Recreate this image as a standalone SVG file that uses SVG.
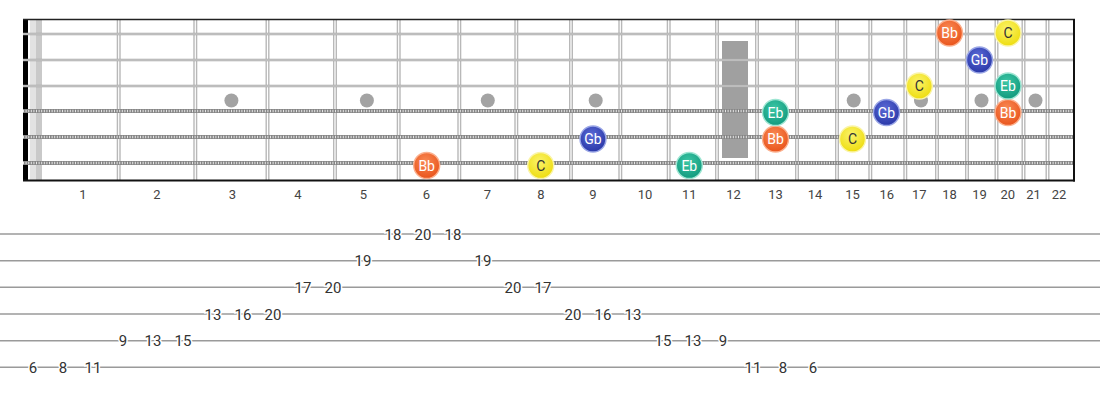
<svg xmlns="http://www.w3.org/2000/svg" width="1100" height="400" viewBox="0 0 1100 400">
<style>
.fret{stroke:#b8b8b8;stroke-width:4}
.fretc{stroke:#ffffff;stroke-width:1.2}
.dot{fill:#a3a3a3}
.ps{stroke:#a8a8a8;stroke-width:2.6}
.psc{stroke:#dcdcdc;stroke-width:0.8}
.ws{stroke:#858585;stroke-width:4}
.wsc{stroke:#e6e6e6;stroke-width:2.4;stroke-dasharray:1 1.6}
.fnum{font-family:Roboto,"Liberation Sans",sans-serif;font-size:13px;fill:#444;text-anchor:middle}
.nl{font-family:Roboto,"Liberation Sans",sans-serif;font-size:14px;text-anchor:middle;fill:#fff}
.nl.dk{fill:#333}
.tl{stroke:#9a9a9a;stroke-width:1.5}
.tn{font-family:Roboto,"Liberation Sans",sans-serif;font-size:15px;fill:#333;text-anchor:middle;stroke:#fff;stroke-width:3;paint-order:stroke}
</style>
<defs>
<radialGradient id="gBb" cx="0.45" cy="0.35" r="0.65"><stop offset="0" stop-color="#f98a55"/><stop offset="1" stop-color="#e9541c"/></radialGradient>
<radialGradient id="gC" cx="0.45" cy="0.35" r="0.65"><stop offset="0" stop-color="#fbf36a"/><stop offset="1" stop-color="#eedd10"/></radialGradient>
<radialGradient id="gGb" cx="0.45" cy="0.35" r="0.65"><stop offset="0" stop-color="#5a6ad6"/><stop offset="1" stop-color="#2a38a8"/></radialGradient>
<radialGradient id="gEb" cx="0.45" cy="0.35" r="0.65"><stop offset="0" stop-color="#3cc7a5"/><stop offset="1" stop-color="#139a7e"/></radialGradient>
</defs>
<rect width="1100" height="400" fill="#fff"/>
<g id="fretboard">
<rect x="30" y="20" width="6" height="160" fill="#e2e2e2"/>
<rect x="36" y="20" width="6" height="160" fill="#c9c9c9"/>
<g id="frets">
<line class="fret" x1="118.7" y1="20" x2="118.7" y2="180"/><line class="fretc" x1="118.7" y1="20" x2="118.7" y2="180"/>
<line class="fret" x1="195.3" y1="20" x2="195.3" y2="180"/><line class="fretc" x1="195.3" y1="20" x2="195.3" y2="180"/>
<line class="fret" x1="267.5" y1="20" x2="267.5" y2="180"/><line class="fretc" x1="267.5" y1="20" x2="267.5" y2="180"/>
<line class="fret" x1="335" y1="20" x2="335" y2="180"/><line class="fretc" x1="335" y1="20" x2="335" y2="180"/>
<line class="fret" x1="398.7" y1="20" x2="398.7" y2="180"/><line class="fretc" x1="398.7" y1="20" x2="398.7" y2="180"/>
<line class="fret" x1="459.3" y1="20" x2="459.3" y2="180"/><line class="fretc" x1="459.3" y1="20" x2="459.3" y2="180"/>
<line class="fret" x1="516.3" y1="20" x2="516.3" y2="180"/><line class="fretc" x1="516.3" y1="20" x2="516.3" y2="180"/>
<line class="fret" x1="571" y1="20" x2="571" y2="180"/><line class="fretc" x1="571" y1="20" x2="571" y2="180"/>
<line class="fret" x1="620.3" y1="20" x2="620.3" y2="180"/><line class="fretc" x1="620.3" y1="20" x2="620.3" y2="180"/>
<line class="fret" x1="668.7" y1="20" x2="668.7" y2="180"/><line class="fretc" x1="668.7" y1="20" x2="668.7" y2="180"/>
<line class="fret" x1="717" y1="20" x2="717" y2="180"/><line class="fretc" x1="717" y1="20" x2="717" y2="180"/>
<line class="fret" x1="757" y1="20" x2="757" y2="180"/><line class="fretc" x1="757" y1="20" x2="757" y2="180"/>
<line class="fret" x1="797" y1="20" x2="797" y2="180"/><line class="fretc" x1="797" y1="20" x2="797" y2="180"/>
<line class="fret" x1="837" y1="20" x2="837" y2="180"/><line class="fretc" x1="837" y1="20" x2="837" y2="180"/>
<line class="fret" x1="870.3" y1="20" x2="870.3" y2="180"/><line class="fretc" x1="870.3" y1="20" x2="870.3" y2="180"/>
<line class="fret" x1="905.3" y1="20" x2="905.3" y2="180"/><line class="fretc" x1="905.3" y1="20" x2="905.3" y2="180"/>
<line class="fret" x1="937" y1="20" x2="937" y2="180"/><line class="fretc" x1="937" y1="20" x2="937" y2="180"/>
<line class="fret" x1="967" y1="20" x2="967" y2="180"/><line class="fretc" x1="967" y1="20" x2="967" y2="180"/>
<line class="fret" x1="996.5" y1="20" x2="996.5" y2="180"/><line class="fretc" x1="996.5" y1="20" x2="996.5" y2="180"/>
<line class="fret" x1="1023.5" y1="20" x2="1023.5" y2="180"/><line class="fretc" x1="1023.5" y1="20" x2="1023.5" y2="180"/>
<line class="fret" x1="1047.5" y1="20" x2="1047.5" y2="180"/><line class="fretc" x1="1047.5" y1="20" x2="1047.5" y2="180"/>
</g>
<g id="inlays">
<circle class="dot" cx="231.4" cy="100.5" r="7"/>
<circle class="dot" cx="366.9" cy="100.5" r="7"/>
<circle class="dot" cx="487.8" cy="100.5" r="7"/>
<circle class="dot" cx="595.7" cy="100.5" r="7"/>
<circle class="dot" cx="853.7" cy="100.5" r="7"/>
<circle class="dot" cx="921" cy="100.5" r="7"/>
<circle class="dot" cx="981.5" cy="100.5" r="7"/>
<circle class="dot" cx="1035.5" cy="100.5" r="7"/>
<rect x="722" y="41" width="26" height="117" fill="#a0a0a0"/>
</g>
<rect x="23" y="19" width="5" height="162" fill="#000"/>
<g id="strings">
<line class="ps" x1="23" y1="34" x2="1073" y2="34"/><line class="psc" x1="23" y1="34" x2="1073" y2="34"/>
<line class="ps" x1="23" y1="60" x2="1073" y2="60"/><line class="psc" x1="23" y1="60" x2="1073" y2="60"/>
<line class="ps" x1="23" y1="86" x2="1073" y2="86"/><line class="psc" x1="23" y1="86" x2="1073" y2="86"/>
<line class="ws" x1="23" y1="111" x2="1073" y2="111"/><line class="wsc" x1="23" y1="111" x2="1073" y2="111"/>
<line class="ws" x1="23" y1="137" x2="1073" y2="137"/><line class="wsc" x1="23" y1="137" x2="1073" y2="137"/>
<line class="ws" x1="23" y1="163" x2="1073" y2="163"/><line class="wsc" x1="23" y1="163" x2="1073" y2="163"/>
</g>
<line x1="23" y1="19.5" x2="1075" y2="19.5" stroke="#222" stroke-width="1.6"/>
<line x1="23" y1="180.5" x2="1075" y2="180.5" stroke="#111" stroke-width="2"/>
<line x1="1074" y1="19" x2="1074" y2="181.5" stroke="#111" stroke-width="2"/>
</g>
<g id="fret-numbers">
<text class="fnum" x="83" y="199">1</text>
<text class="fnum" x="157" y="199">2</text>
<text class="fnum" x="232.5" y="199">3</text>
<text class="fnum" x="298" y="199">4</text>
<text class="fnum" x="363.3" y="199">5</text>
<text class="fnum" x="426.5" y="199">6</text>
<text class="fnum" x="487.5" y="199">7</text>
<text class="fnum" x="541" y="199">8</text>
<text class="fnum" x="593" y="199">9</text>
<text class="fnum" x="645" y="199">10</text>
<text class="fnum" x="689.3" y="199">11</text>
<text class="fnum" x="733.5" y="199">12</text>
<text class="fnum" x="775.5" y="199">13</text>
<text class="fnum" x="815" y="199">14</text>
<text class="fnum" x="852.5" y="199">15</text>
<text class="fnum" x="886.7" y="199">16</text>
<text class="fnum" x="919.3" y="199">17</text>
<text class="fnum" x="949.5" y="199">18</text>
<text class="fnum" x="979.5" y="199">19</text>
<text class="fnum" x="1007.7" y="199">20</text>
<text class="fnum" x="1033.5" y="199">21</text>
<text class="fnum" x="1059" y="199">22</text>
</g>
<g id="notes">
<g id="n-s6-f6"><circle cx="426.7" cy="165.5" r="13" fill="url(#gBb)" stroke="#fbb08e" stroke-width="1.4"/><text class="nl" x="426.7" y="170.5">Bb</text></g>
<g id="n-s6-f8"><circle cx="540.7" cy="165.5" r="13" fill="url(#gC)" stroke="#faf4a8" stroke-width="1.4"/><text class="nl dk" x="540.7" y="170.5">C</text></g>
<g id="n-s6-f11"><circle cx="689.3" cy="165.5" r="13" fill="url(#gEb)" stroke="#9fe6d3" stroke-width="1.4"/><text class="nl" x="689.3" y="170.5">Eb</text></g>
<g id="n-s5-f9"><circle cx="593" cy="139" r="13" fill="url(#gGb)" stroke="#9aa6e6" stroke-width="1.4"/><text class="nl" x="593" y="144">Gb</text></g>
<g id="n-s5-f13"><circle cx="775.5" cy="139" r="13" fill="url(#gBb)" stroke="#fbb08e" stroke-width="1.4"/><text class="nl" x="775.5" y="144">Bb</text></g>
<g id="n-s5-f15"><circle cx="852.5" cy="139" r="13" fill="url(#gC)" stroke="#faf4a8" stroke-width="1.4"/><text class="nl dk" x="852.5" y="144">C</text></g>
<g id="n-s4-f13"><circle cx="775.5" cy="112.5" r="13" fill="url(#gEb)" stroke="#9fe6d3" stroke-width="1.4"/><text class="nl" x="775.5" y="117.5">Eb</text></g>
<g id="n-s4-f16"><circle cx="886.5" cy="112.5" r="13" fill="url(#gGb)" stroke="#9aa6e6" stroke-width="1.4"/><text class="nl" x="886.5" y="117.5">Gb</text></g>
<g id="n-s4-f20"><circle cx="1008" cy="112.5" r="13" fill="url(#gBb)" stroke="#fbb08e" stroke-width="1.4"/><text class="nl" x="1008" y="117.5">Bb</text></g>
<g id="n-s3-f17"><circle cx="919.3" cy="86" r="13" fill="url(#gC)" stroke="#faf4a8" stroke-width="1.4"/><text class="nl dk" x="919.3" y="91">C</text></g>
<g id="n-s3-f20"><circle cx="1008" cy="86" r="13" fill="url(#gEb)" stroke="#9fe6d3" stroke-width="1.4"/><text class="nl" x="1008" y="91">Eb</text></g>
<g id="n-s2-f19"><circle cx="979.5" cy="60" r="13" fill="url(#gGb)" stroke="#9aa6e6" stroke-width="1.4"/><text class="nl" x="979.5" y="65">Gb</text></g>
<g id="n-s1-f18"><circle cx="949.5" cy="33" r="13" fill="url(#gBb)" stroke="#fbb08e" stroke-width="1.4"/><text class="nl" x="949.5" y="38">Bb</text></g>
<g id="n-s1-f20"><circle cx="1008" cy="33" r="13" fill="url(#gC)" stroke="#faf4a8" stroke-width="1.4"/><text class="nl dk" x="1008" y="38">C</text></g>
</g>
<g id="tab-lines">
<line class="tl" x1="0" y1="234" x2="1100" y2="234"/>
<line class="tl" x1="0" y1="260.7" x2="1100" y2="260.7"/>
<line class="tl" x1="0" y1="287.3" x2="1100" y2="287.3"/>
<line class="tl" x1="0" y1="314" x2="1100" y2="314"/>
<line class="tl" x1="0" y1="340.7" x2="1100" y2="340.7"/>
<line class="tl" x1="0" y1="367.3" x2="1100" y2="367.3"/>
</g>
<g id="tab-numbers">
<text class="tn" x="33" y="372.8">6</text>
<text class="tn" x="63" y="372.8">8</text>
<text class="tn" x="93" y="372.8">11</text>
<text class="tn" x="123" y="346.2">9</text>
<text class="tn" x="153" y="346.2">13</text>
<text class="tn" x="183" y="346.2">15</text>
<text class="tn" x="213" y="319.5">13</text>
<text class="tn" x="243" y="319.5">16</text>
<text class="tn" x="273" y="319.5">20</text>
<text class="tn" x="303" y="292.8">17</text>
<text class="tn" x="333" y="292.8">20</text>
<text class="tn" x="363" y="266.2">19</text>
<text class="tn" x="393" y="239.5">18</text>
<text class="tn" x="423" y="239.5">20</text>
<text class="tn" x="453" y="239.5">18</text>
<text class="tn" x="483" y="266.2">19</text>
<text class="tn" x="513" y="292.8">20</text>
<text class="tn" x="543" y="292.8">17</text>
<text class="tn" x="573" y="319.5">20</text>
<text class="tn" x="603" y="319.5">16</text>
<text class="tn" x="633" y="319.5">13</text>
<text class="tn" x="663" y="346.2">15</text>
<text class="tn" x="693" y="346.2">13</text>
<text class="tn" x="723" y="346.2">9</text>
<text class="tn" x="753" y="372.8">11</text>
<text class="tn" x="783" y="372.8">8</text>
<text class="tn" x="813" y="372.8">6</text>
</g>
</svg>
